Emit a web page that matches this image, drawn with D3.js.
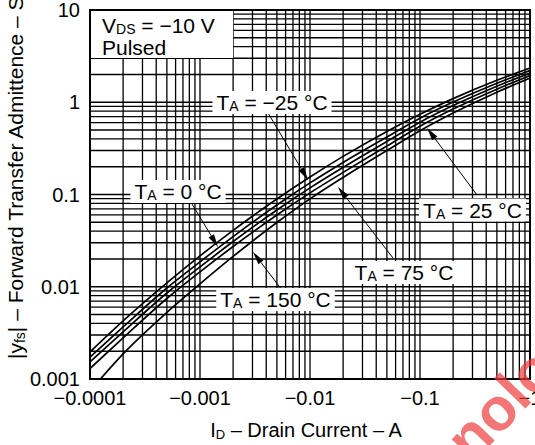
<!DOCTYPE html>
<html>
<head>
<meta charset="utf-8">
<script src="https://cdn.jsdelivr.net/npm/d3@7"></script>
<style>
  html, body { margin: 0; padding: 0; background: #fff; }
  svg { display: block; font-family: Arial, "Liberation Sans", Helvetica, sans-serif; }
</style>
</head>
<body>
<svg id="chart" width="535" height="445"></svg>
<script>
// Drain current sample points (A) shared by every temperature curve
const drainCurrent = [-0.0001, -0.0002, -0.0005, -0.001, -0.002, -0.005, -0.01, -0.02, -0.05, -0.1, -0.2, -0.5, -1];

// |yfs| (S) per ambient temperature
const yfsM25 = [0.00196, 0.00426, 0.0110, 0.0216, 0.0408, 0.0895, 0.155, 0.259, 0.483, 0.741, 1.095, 1.73, 2.35];
const yfs0   = [0.00173, 0.00367, 0.00969, 0.0186, 0.0350, 0.0769, 0.1336, 0.2228, 0.420, 0.672, 1.004, 1.609, 2.21];
const yfs25  = [0.00153, 0.00324, 0.00856, 0.0164, 0.0309, 0.0679, 0.1179, 0.1967, 0.3754, 0.608, 0.920, 1.493, 2.075];
const yfs75  = [0.00130, 0.00279, 0.00746, 0.0145, 0.0273, 0.0599, 0.1041, 0.1737, 0.3356, 0.550, 0.843, 1.385, 1.95];
const yfs150 = [0.000741, 0.00187, 0.00526, 0.01074, 0.0213, 0.0497, 0.0896, 0.1532, 0.300, 0.491, 0.763, 1.285, 1.83];

const temperatures = [-25, 0, 25, 75, 150];
const seriesValues = [yfsM25, yfs0, yfs25, yfs75, yfs150];

// Axis ticks
const xTickValues = [-0.0001, -0.001, -0.01, -0.1, -1];
const xTickLabels = ["\u22120.0001", "\u22120.001", "\u22120.01", "\u22120.1", "\u22121"];
const yTickValues = [0.001, 0.01, 0.1, 1, 10];
const yTickLabels = ["0.001", "0.01", "0.1", "1", "10"];

// Temperature callouts: label position, arrow start, arrow tip (data units)
const calloutTemp   = [-25, 0, 150, 75, 25];
const calloutLabel  = [[-0.004513, 0.824], [-0.000631, 0.0894], [-0.004858, 0.006033], [-0.07153, 0.01183], [-0.3001, 0.05631]];
const calloutFrom   = [[-0.004151, 0.7647], [-0.000846, 0.0789], [-0.005566, 0.009222], [-0.05682, 0.02050], [-0.3299, 0.09876]];
const calloutTip    = [[-0.009590, 0.1436], [-0.001458, 0.02698], [-0.003032, 0.02380], [-0.01797, 0.1206], [-0.1158, 0.5259]];

// ---- layout ----
const svg = d3.select("#chart");
const plot = { left: 90, top: 10, right: 530, bottom: 379 };

const x = d3.scaleLog().domain([-0.0001, -1]).range([plot.left, plot.right]);
const y = d3.scaleLog().domain([0.001, 10]).range([plot.bottom, plot.top]);

svg.append("defs").append("clipPath").attr("id", "plot-clip")
  .append("rect")
  .attr("x", plot.left).attr("y", plot.top)
  .attr("width", plot.right - plot.left).attr("height", plot.bottom - plot.top);

// ---- grid (1..9 per decade) ----
const grid = svg.append("g").attr("stroke", "#000").attr("stroke-width", 1.3);
grid.selectAll("line.vx").data(x.ticks()).join("line")
  .attr("x1", d => x(d)).attr("x2", d => x(d))
  .attr("y1", plot.top).attr("y2", plot.bottom);
grid.selectAll("line.hy").data(y.ticks()).join("line")
  .attr("y1", d => y(d)).attr("y2", d => y(d))
  .attr("x1", plot.left).attr("x2", plot.right);

// ---- condition box in the top-left corner ----
const cond = svg.append("g");
const condBox = cond.append("rect").attr("fill", "#fff");
const condText = cond.append("text").attr("font-size", 21).attr("fill", "#000");
const l1 = condText.append("tspan").attr("x", plot.left + 12).attr("y", plot.top + 23);
l1.append("tspan").text("V");
l1.append("tspan").attr("font-size", 14).attr("dy", 1).text("DS");
l1.append("tspan").attr("dy", -1).text(" = \u221210 V");
condText.append("tspan").attr("x", plot.left + 12).attr("y", plot.top + 45).text("Pulsed");
condBox.attr("x", plot.left).attr("y", plot.top)
  .attr("width", x(-0.002) - plot.left).attr("height", 48);

// ---- curves ----
const line = d3.line()
  .x(d => x(d[0]))
  .y(d => y(d[1]))
  .curve(d3.curveMonotoneX);

svg.append("g").attr("clip-path", "url(#plot-clip)")
  .selectAll("path").data(seriesValues).join("path")
  .attr("d", vals => line(drainCurrent.map((c, i) => [c, vals[i]])))
  .attr("fill", "none").attr("stroke", "#000").attr("stroke-width", 1.7);

// ---- temperature callouts ----
const callouts = svg.append("g");
calloutTemp.forEach((t, i) => {
  const g = callouts.append("g");
  const [fx, fy] = [x(calloutFrom[i][0]), y(calloutFrom[i][1])];
  const [tx, ty] = [x(calloutTip[i][0]), y(calloutTip[i][1])];
  // leader line with a slim filled arrowhead
  const ang = Math.atan2(ty - fy, tx - fx);
  const len = 13, half = 3.2;
  const bx = tx - len * Math.cos(ang), by = ty - len * Math.sin(ang);
  g.append("line").attr("x1", fx).attr("y1", fy).attr("x2", bx).attr("y2", by)
    .attr("stroke", "#000").attr("stroke-width", 1);
  g.append("path")
    .attr("d", `M${tx},${ty}L${bx - half * Math.sin(ang)},${by + half * Math.cos(ang)}L${bx + half * Math.sin(ang)},${by - half * Math.cos(ang)}Z`)
    .attr("fill", "#000");

  const box = g.append("rect").attr("fill", "#fff");
  const txt = g.append("text").attr("font-size", 21).attr("fill", "#000")
    .attr("text-anchor", "middle")
    .attr("x", x(calloutLabel[i][0])).attr("y", y(calloutLabel[i][1]));
  txt.append("tspan").text("T");
  txt.append("tspan").attr("font-size", 14).attr("dy", 1).text("A");
  txt.append("tspan").attr("dy", -1).text(" = " + (t < 0 ? "\u2212" + Math.abs(t) : t) + " \u00B0C");
  const bb = txt.node().getBBox();
  box.attr("x", bb.x - 4).attr("y", bb.y).attr("width", bb.width + 8).attr("height", bb.height);
});

// ---- frame ----
svg.append("rect")
  .attr("x", plot.left).attr("y", plot.top)
  .attr("width", plot.right - plot.left).attr("height", plot.bottom - plot.top)
  .attr("fill", "none").attr("stroke", "#000").attr("stroke-width", 2);

// ---- tick labels ----
svg.append("g").selectAll("text").data(yTickValues).join("text")
  .attr("x", plot.left - 10).attr("y", d => y(d)).attr("dy", "0.36em")
  .attr("text-anchor", "end").attr("font-size", 20).attr("fill", "#000")
  .text((d, i) => yTickLabels[i]);

svg.append("g").selectAll("text").data(xTickValues).join("text")
  .attr("x", d => x(d)).attr("y", plot.bottom + 26)
  .attr("text-anchor", "middle").attr("font-size", 20).attr("fill", "#000")
  .text((d, i) => xTickLabels[i]);

// ---- axis titles ----
const xt = svg.append("text").attr("font-size", 20).attr("fill", "#000")
  .attr("text-anchor", "middle").attr("x", 306).attr("y", 437);
xt.append("tspan").text("I");
xt.append("tspan").attr("font-size", 13).attr("dy", 2).text("D");
xt.append("tspan").attr("dy", -2).text(" \u2013 Drain Current \u2013 A");

const yt = svg.append("text").attr("font-size", 21).attr("fill", "#000")
  .attr("transform", "translate(22.5,359) rotate(-90)");
yt.append("tspan").text("|y");
yt.append("tspan").attr("font-size", 14).attr("dy", 2).text("fs");
yt.append("tspan").attr("dy", -2).text("| \u2013 Forward Transfer Admittence \u2013 S");

// ---- publisher watermark ----
svg.append("text")
  .attr("transform", "translate(386,553) rotate(-46)")
  .attr("font-size", 60).attr("font-weight", "bold")
  .attr("fill", "#f03a3a").attr("fill-opacity", 0.7)
  .text("technology");
</script>
</body>
</html>
